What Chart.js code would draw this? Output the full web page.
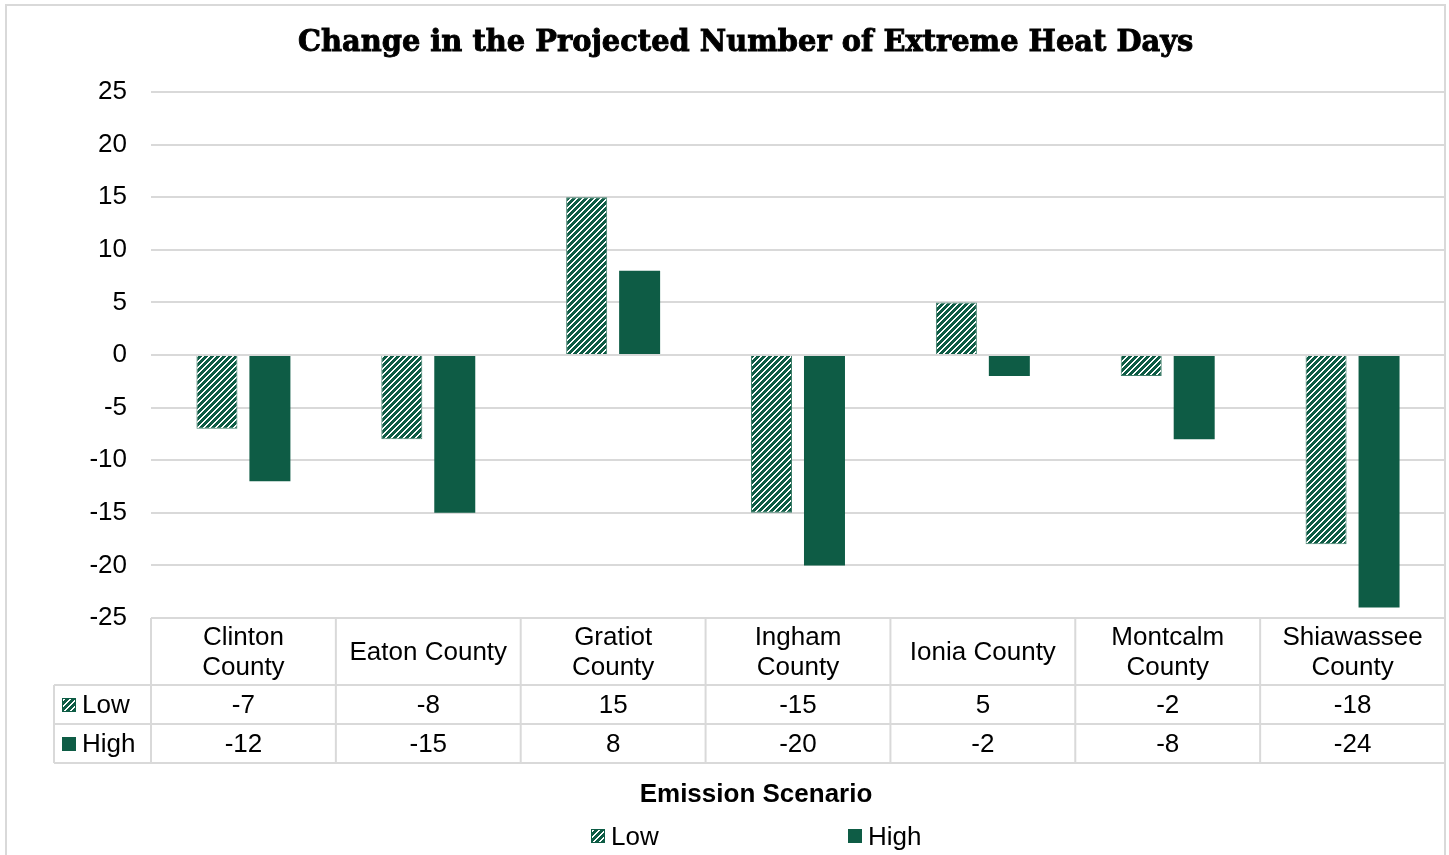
<!DOCTYPE html>
<html>
<head>
<meta charset="utf-8">
<script src="https://cdn.jsdelivr.net/npm/chart.js@4.4.1/dist/chart.umd.min.js"></script>
<style>
  html, body { margin: 0; padding: 0; background: #fff; }
  #wrap { width: 1449px; height: 855px; position: relative; }
</style>
</head>
<body>
<div id="wrap"><canvas id="canHeat"></canvas></div>
<script>
const chartTitle = 'Change in the Projected Number of Extreme Heat Days'
const axisTitle = 'Emission Scenario'
const counties = [
  ['Clinton', 'County'],
  ['Eaton County'],
  ['Gratiot', 'County'],
  ['Ingham', 'County'],
  ['Ionia County'],
  ['Montcalm', 'County'],
  ['Shiawassee', 'County']
]
const seriesNames = ['Low', 'High']
const lowValues = [-7, -8, 15, -15, 5, -2, -18]
const highValues = [-12, -15, 8, -20, -2, -8, -24]
const yMin = -25
const yMax = 25
const yStep = 5

const green = '#0e5c45'
const gridGrey = '#d9d9d9'
const sans = '"Liberation Sans", Arial, sans-serif'

// excel style "wide upward diagonal" fill
function makeHatch () {
  const c = document.createElement('canvas')
  c.width = 6
  c.height = 6
  const x = c.getContext('2d')
  const img = x.createImageData(6, 6)
  for (let j = 0; j < 6; j++) {
    for (let i = 0; i < 6; i++) {
      const k = (j * 6 + i) * 4
      const white = (i + j) % 6 < 2
      img.data[k] = white ? 255 : 14
      img.data[k + 1] = white ? 255 : 92
      img.data[k + 2] = white ? 255 : 69
      img.data[k + 3] = 255
    }
  }
  x.putImageData(img, 0, 0)
  return x.createPattern(c, 'repeat')
}
const hatch = makeHatch()
const fills = [hatch, green]

function key (ctx, i, x, y) {
  ctx.fillStyle = fills[i]
  ctx.fillRect(x, y, 14, 14)
  if (i === 0) {
    ctx.strokeStyle = green
    ctx.lineWidth = 1
    ctx.strokeRect(x + 0.5, y + 0.5, 13, 13)
  }
}

const tablePlugin = {
  id: 'tablePlugin',
  beforeDraw (chart) {
    const ctx = chart.ctx
    ctx.save()
    ctx.strokeStyle = gridGrey
    ctx.lineWidth = 2
    ctx.strokeRect(6, 5, 1439, 900)
    ctx.restore()
  },
  afterDraw (chart) {
    const ctx = chart.ctx
    const xs = chart.scales.x
    const area = chart.chartArea
    const w = (area.right - area.left) / counties.length
    const top = area.bottom
    const rows = [top + 67, top + 106, top + 145]
    const keyLeft = 54

    ctx.save()
    ctx.strokeStyle = gridGrey
    ctx.lineWidth = 2
    ctx.beginPath()
    for (const y of rows) {
      ctx.moveTo(keyLeft, y)
      ctx.lineTo(area.right, y)
    }
    for (let i = 0; i <= counties.length; i++) {
      const x = area.left + i * w
      ctx.moveTo(x, top)
      ctx.lineTo(x, rows[2])
    }
    ctx.moveTo(keyLeft, rows[0])
    ctx.lineTo(keyLeft, rows[2])
    ctx.stroke()

    ctx.fillStyle = '#000'
    ctx.font = '26px ' + sans
    ctx.textAlign = 'center'
    ctx.textBaseline = 'middle'
    counties.forEach((lines, i) => {
      const cx = xs.getPixelForTick(i)
      if (lines.length === 1) {
        ctx.fillText(lines[0], cx, top + 35)
      } else {
        ctx.fillText(lines[0], cx, top + 20)
        ctx.fillText(lines[1], cx, top + 50)
      }
      ctx.fillText(String(lowValues[i]), cx, rows[0] + 21)
      ctx.fillText(String(highValues[i]), cx, rows[1] + 21)
    })

    // row keys
    ctx.textAlign = 'left'
    seriesNames.forEach((name, i) => {
      const y = rows[i] + 20
      key(ctx, i, 62, y - 7)
      ctx.fillStyle = '#000'
      ctx.fillText(name, 82, y + 1)
    })

    // axis title
    ctx.textAlign = 'center'
    ctx.font = 'bold 26px ' + sans
    ctx.fillText(axisTitle, 756, 795)

    // legend
    ctx.font = '26px ' + sans
    ctx.textAlign = 'left'
    const legendX = [591, 848]
    seriesNames.forEach((name, i) => {
      key(ctx, i, legendX[i], 829)
      ctx.fillStyle = '#000'
      ctx.fillText(name, legendX[i] + 20, 838)
    })

    // title, scaled to the reference width
    let size = 30
    ctx.font = 'bold ' + size + 'px "DejaVu Serif", serif'
    size = size * 895 / ctx.measureText(chartTitle).width
    ctx.font = 'bold ' + size.toFixed(1) + 'px "DejaVu Serif", serif'
    ctx.strokeStyle = '#000'
    ctx.lineWidth = 0.9
    ctx.fillText(chartTitle, 298, 43)
    ctx.strokeText(chartTitle, 298, 43)
    ctx.restore()
  }
}

new Chart(document.getElementById('canHeat'), {
  type: 'bar',
  data: {
    labels: counties,
    datasets: [
      {
        label: seriesNames[0],
        data: lowValues,
        backgroundColor: hatch,
        borderColor: '#3f7f6a',
        borderWidth: 1
      },
      {
        label: seriesNames[1],
        data: highValues,
        backgroundColor: green
      }
    ]
  },
  options: {
    responsive: true,
    maintainAspectRatio: false,
    animation: false,
    categoryPercentage: 0.573,
    barPercentage: 0.774,
    layout: { padding: { top: 92, bottom: 237, right: 4, left: 0 } },
    plugins: {
      legend: { display: false },
      title: { display: false },
      tooltip: { enabled: false }
    },
    scales: {
      x: { display: false },
      y: {
        min: yMin,
        max: yMax,
        afterFit (s) { s.width = 151 },
        ticks: {
          stepSize: yStep,
          padding: 24,
          color: '#000',
          font: { family: sans, size: 26 }
        },
        grid: { color: gridGrey, lineWidth: 2, drawTicks: false },
        border: { display: false }
      }
    }
  },
  plugins: [tablePlugin]
})
</script>
</body>
</html>
